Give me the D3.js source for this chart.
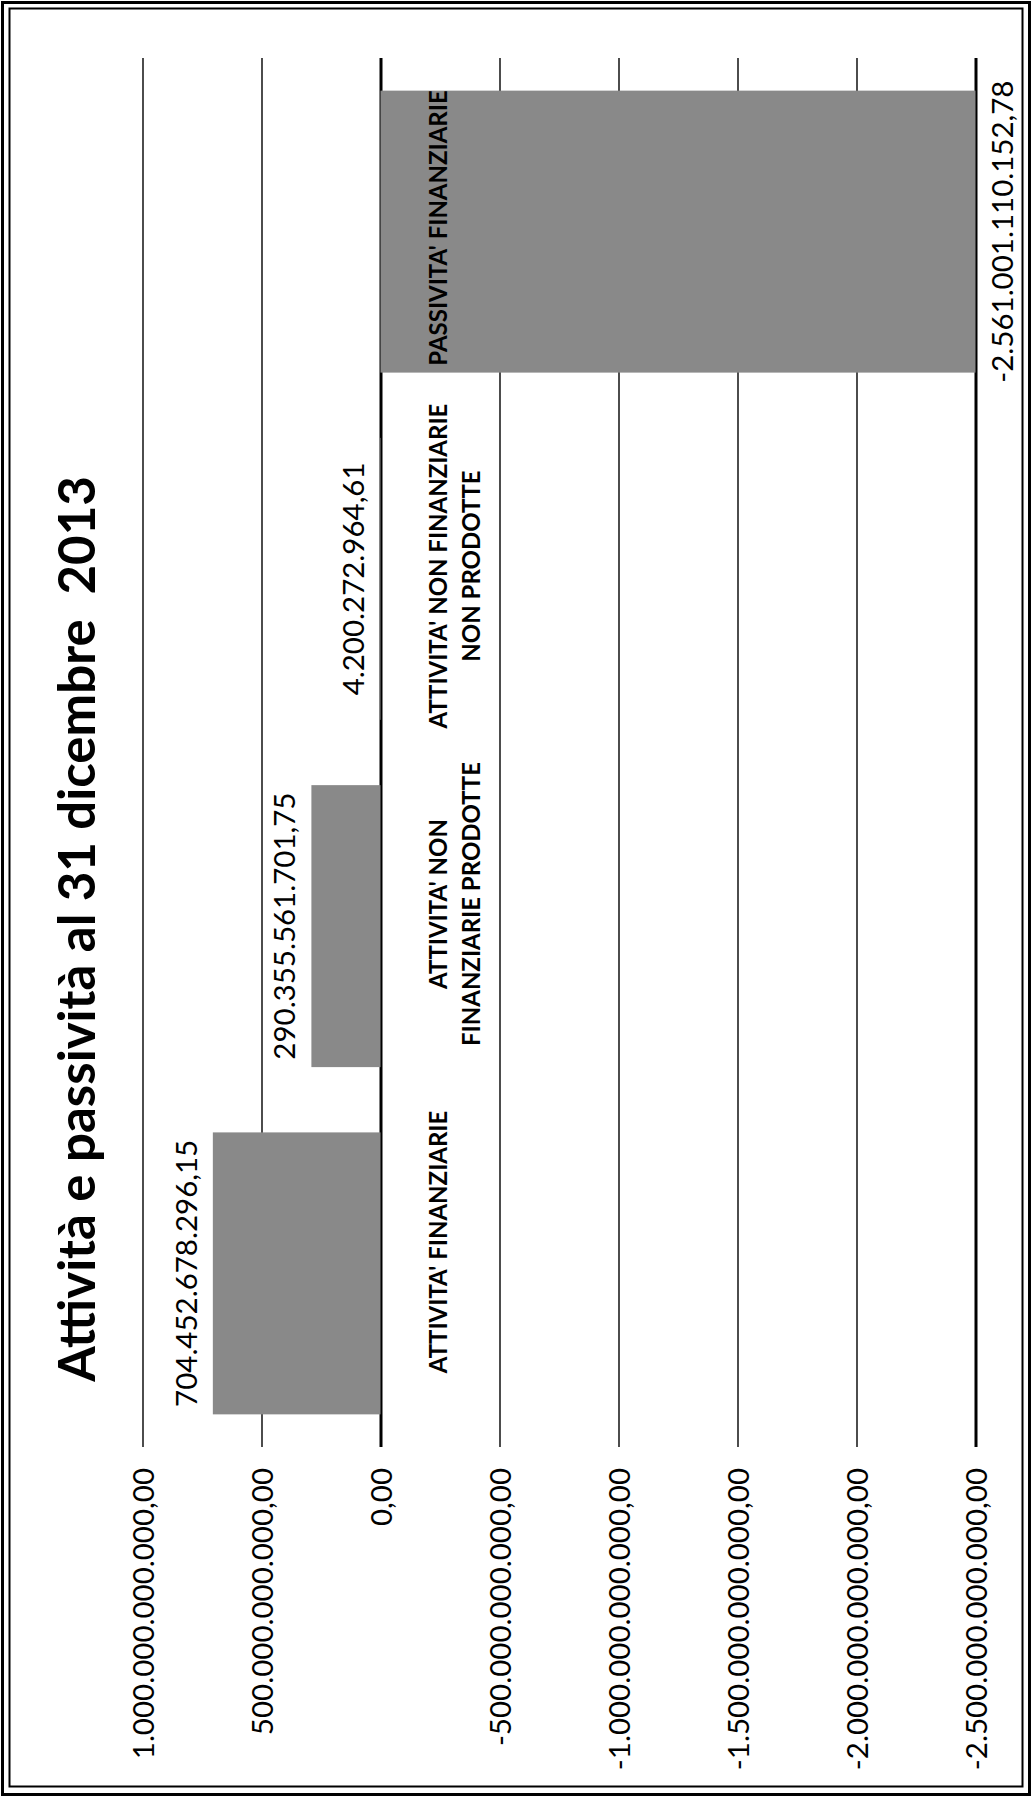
<!DOCTYPE html>
<html>
<head>
<meta charset="utf-8">
<script src="https://cdn.jsdelivr.net/npm/d3@7"></script>
<style>
  html, body { margin: 0; padding: 0; background: #fff; }
  svg { display: block; }
  text { font-family: Lato, "Noto Sans", sans-serif; fill: #000; }
</style>
</head>
<body>
<svg id="chart" width="1032" height="1797"></svg>
<script>
// ---- data ----
const title = "Attività e passività al 31 dicembre  2013";
const categories = [
  "ATTIVITA' FINANZIARIE",
  "ATTIVITA' NON FINANZIARIE PRODOTTE",
  "ATTIVITA' NON FINANZIARIE NON PRODOTTE",
  "PASSIVITA' FINANZIARIE"
];
const categoryLines = [
  ["ATTIVITA' FINANZIARIE"],
  ["ATTIVITA' NON", "FINANZIARIE PRODOTTE"],
  ["ATTIVITA' NON FINANZIARIE", "NON PRODOTTE"],
  ["PASSIVITA' FINANZIARIE"]
];
const values = [704452678296.15, 290355561701.75, 4200272964.61, -2561001110152.78];
const tickValues = [1e12, 5e11, 0, -5e11, -1e12, -1.5e12, -2e12, -2.5e12];
const valueDomain = [1e12, -2.5e12];

// ---- setup ----
const W = 1032, H = 1797;
const svg = d3.select("#chart");
const it = d3.formatLocale({decimal: ",", thousands: ".", grouping: [3], currency: ["€", ""], minus: "-"});
const fmt = it.format(",.2f");

// frame
svg.append("rect").attr("x", 2.5).attr("y", 2.5).attr("width", W - 5).attr("height", H - 5)
  .attr("fill", "none").attr("stroke", "#000").attr("stroke-width", 3);
svg.append("rect").attr("x", 9.5).attr("y", 8.5).attr("width", W - 19).attr("height", H - 19)
  .attr("fill", "none").attr("stroke", "#000").attr("stroke-width", 2);

// chart drawn as a column chart, then rotated -90deg
const g = svg.append("g").attr("transform", `translate(0,${H}) rotate(-90)`);

const x = d3.scaleBand().domain(categories).range([350, 1739])
  .paddingInner(0.188).paddingOuter(0.094);
const y = d3.scaleLinear().domain(valueDomain).range([142.5, 975.5]).clamp(true);
const labelPos = d3.scalePoint().domain(categories).range([555, 1569]);

// value axis + gridlines
const axis = d3.axisLeft(y).tickValues(tickValues).tickFormat(fmt)
  .tickSizeInner(-(1739 - 350)).tickSizeOuter(0).tickPadding(21);
const ax = g.append("g").attr("transform", "translate(350,0)").call(axis);
ax.select(".domain").remove();
ax.selectAll(".tick line").attr("stroke", "#000")
  .attr("stroke-width", d => (d === 0 || d === -2.5e12) ? 3 : 1.4);
ax.selectAll(".tick text").attr("font-family", "Lato, sans-serif").attr("font-size", 29.5)
  .attr("dy", "0.38em").attr("fill", "#000");

// bars
g.append("g").selectAll("rect").data(values).join("rect")
  .attr("x", (d, i) => x(categories[i]))
  .attr("width", x.bandwidth())
  .attr("y", d => Math.min(y(d), y(0)))
  .attr("height", d => Math.abs(y(d) - y(0)))
  .attr("fill", "#898989");

// category labels
const cl = g.append("g").selectAll("text").data(categoryLines).join("text")
  .attr("text-anchor", "middle")
  .attr("font-weight", "bold")
  .attr("font-size", 24)
  .attr("x", (d, i) => labelPos(categories[i]))
  .attr("y", 447);
cl.selectAll("tspan").data(d => d).join("tspan")
  .attr("x", function() { return this.parentNode.getAttribute("x"); })
  .attr("dy", (d, j) => j === 0 ? 0 : 33)
  .text(d => d);

// value labels
g.append("g").selectAll("text").data(values).join("text")
  .attr("text-anchor", "middle")
  .attr("font-size", 29.5)
  .attr("x", (d, i) => x(categories[i]) + x.bandwidth() / 2)
  .attr("y", d => d >= 0 ? y(d) - 16 : y(d) + 37)
  .text(d => fmt(d));

// title
g.append("text").attr("text-anchor", "middle").attr("font-weight", "bold")
  .attr("font-size", 51).attr("x", 868).attr("y", 95)
  .style("white-space", "pre").text(title);
</script>
</body>
</html>
